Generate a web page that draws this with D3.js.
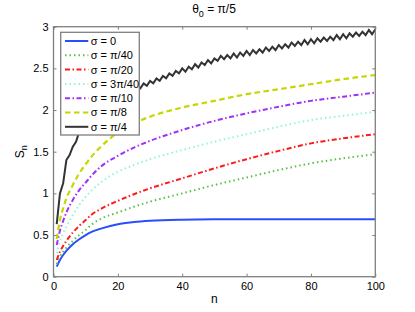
<!DOCTYPE html>
<html>
<head>
<meta charset="utf-8">
<script src="https://cdn.jsdelivr.net/npm/d3@7"></script>
<style>
  body { margin: 0; background: #fff; }
  svg { font-family: "Liberation Sans", Arial, sans-serif; }
  .axis text { font-size: 11px; fill: #000; }
</style>
</head>
<body>
<svg id="chart" width="415" height="312"></svg>
<script>
// sampled n for the smooth curves
var nSamples = [1, 2, 3, 4, 6, 8, 10, 12, 15, 20, 25, 30, 40, 50, 60, 70, 80, 90, 100];

var sig0    = [0.12, 0.20, 0.26, 0.31, 0.39, 0.45, 0.50, 0.54, 0.58, 0.63, 0.655, 0.67, 0.684, 0.689, 0.69, 0.69, 0.69, 0.69, 0.69];
var sigPi40 = [0.15, 0.24, 0.30, 0.35, 0.43, 0.50, 0.56, 0.63, 0.70, 0.77, 0.84, 0.90, 1.00, 1.10, 1.19, 1.28, 1.36, 1.42, 1.47];
var sigPi20 = [0.20, 0.30, 0.37, 0.43, 0.53, 0.61, 0.68, 0.75, 0.82, 0.91, 0.99, 1.06, 1.18, 1.30, 1.41, 1.51, 1.60, 1.66, 1.71];
var sig3Pi40 = [0.28, 0.42, 0.52, 0.60, 0.74, 0.86, 0.96, 1.04, 1.14, 1.26, 1.34, 1.41, 1.52, 1.62, 1.71, 1.80, 1.88, 1.93, 1.98];
var sigPi10 = [0.38, 0.55, 0.67, 0.77, 0.92, 1.04, 1.13, 1.22, 1.33, 1.45, 1.55, 1.63, 1.76, 1.87, 1.96, 2.04, 2.11, 2.16, 2.21];
var sigPi8  = [0.45, 0.68, 0.82, 0.94, 1.10, 1.24, 1.35, 1.45, 1.57, 1.73, 1.84, 1.92, 2.03, 2.11, 2.19, 2.25, 2.31, 2.37, 2.42];

// sigma = pi/4, every n from 1 to 100 (zig-zags)
var sigPi4 = [
  0.63, 1.00, 1.12, 1.40, 1.46, 1.56, 1.62, 1.74, 1.81, 1.92,
  1.91, 2.00, 1.98, 2.06, 2.04, 2.12, 2.09, 2.16, 2.13, 2.20,
  2.16, 2.23, 2.20, 2.26, 2.23, 2.29, 2.26, 2.32, 2.29, 2.35,
  2.32, 2.38, 2.35, 2.41, 2.38, 2.44, 2.41, 2.47, 2.44, 2.50,
  2.46, 2.52, 2.49, 2.55, 2.51, 2.57, 2.54, 2.60, 2.56, 2.62,
  2.59, 2.65, 2.61, 2.66, 2.62, 2.68, 2.63, 2.69, 2.65, 2.71,
  2.66, 2.72, 2.68, 2.73, 2.69, 2.75, 2.71, 2.76, 2.72, 2.78,
  2.74, 2.79, 2.75, 2.81, 2.77, 2.82, 2.78, 2.84, 2.79, 2.85,
  2.80, 2.86, 2.82, 2.87, 2.83, 2.88, 2.84, 2.90, 2.85, 2.91,
  2.86, 2.92, 2.88, 2.93, 2.89, 2.94, 2.90, 2.96, 2.91, 2.97
];

var legendLabels = ["\u03c3 = 0", "\u03c3 = \u03c0/40", "\u03c3 = \u03c0/20", "\u03c3 = 3\u03c0/40",
                    "\u03c3 = \u03c0/10", "\u03c3 = \u03c0/8", "\u03c3 = \u03c0/4"];
var xTicks = [0, 20, 40, 60, 80, 100];
var yTicks = [0, 0.5, 1, 1.5, 2, 2.5, 3];

var styles = [
  { color: "#2a4dff", width: 2,   dash: null },
  { color: "#5cbf48", width: 2,   dash: "1.5,3" },
  { color: "#ff1a1a", width: 2,   dash: "5,2.5,1.5,2.5" },
  { color: "#8ff5dc", width: 2,   dash: "1.5,3" },
  { color: "#a030f5", width: 2,   dash: "5,2.5,1.5,2.5" },
  { color: "#c4d800", width: 2.2, dash: "5.5,3.5" },
  { color: "#333333", width: 2,   dash: null }
];

var smoothSeries = [sig0, sigPi40, sigPi20, sig3Pi40, sigPi10, sigPi8];

var margin = { left: 53.5, right: 415 - 375.3, top: 26.7, bottom: 312 - 276.7 };
var svg = d3.select("#chart");
var width = 415 - margin.left - margin.right,
    height = 312 - margin.top - margin.bottom;

var g = svg.append("g").attr("transform", "translate(" + margin.left + "," + margin.top + ")");

var x = d3.scaleLinear().domain([0, 100]).range([0, width]);
var y = d3.scaleLinear().domain([0, 3]).range([height, 0]);

var axisColor = "#7f7f7f";

// lines
var smoothLine = d3.line()
  .x(function(d) { return x(d[0]); })
  .y(function(d) { return y(d[1]); })
  .curve(d3.curveMonotoneX);

var straightLine = d3.line()
  .x(function(d) { return x(d[0]); })
  .y(function(d) { return y(d[1]); });

var plot = g.append("g");

smoothSeries.forEach(function(vals, i) {
  var pts = nSamples.map(function(n, j) { return [n, vals[j]]; });
  plot.append("path")
    .attr("d", smoothLine(pts))
    .attr("fill", "none")
    .attr("stroke", styles[i].color)
    .attr("stroke-width", styles[i].width)
    .attr("stroke-dasharray", styles[i].dash);
});

var blackPts = sigPi4.map(function(v, i) { return [i + 1, v]; });
plot.append("path")
  .attr("d", straightLine(blackPts))
  .attr("fill", "none")
  .attr("stroke", styles[6].color)
  .attr("stroke-width", styles[6].width)
  .attr("stroke-linejoin", "miter");

// axes (box with inward ticks)
var xAxis = d3.axisBottom(x).tickValues(xTicks).tickSize(-3).tickPadding(6);
var yAxis = d3.axisLeft(y).tickValues(yTicks).tickSize(-3).tickPadding(5)
  .tickFormat(function(d) { return String(d); });

var gx = g.append("g").attr("class", "axis").attr("transform", "translate(0," + height + ")").call(xAxis);
var gy = g.append("g").attr("class", "axis").call(yAxis);
g.append("g").attr("class", "axis").call(d3.axisTop(x).tickValues(xTicks).tickSize(-3).tickFormat(""));
g.append("g").attr("class", "axis").attr("transform", "translate(" + width + ",0)")
  .call(d3.axisRight(y).tickValues(yTicks).tickSize(-3).tickFormat(""));

g.selectAll(".axis .domain").remove();
g.selectAll(".axis line").attr("stroke", axisColor);

g.append("rect")
  .attr("x", 0).attr("y", 0).attr("width", width).attr("height", height)
  .attr("fill", "none").attr("stroke", axisColor).attr("stroke-width", 1.3);

// labels
svg.append("text")
  .attr("x", margin.left + width / 2).attr("y", 303)
  .attr("text-anchor", "middle").attr("font-size", 12).text("n");

var ylab = svg.append("text")
  .attr("transform", "translate(24," + (margin.top + height / 2) + ") rotate(-90)")
  .attr("text-anchor", "middle").attr("font-size", 12);
ylab.append("tspan").text("S");
ylab.append("tspan").attr("font-size", 9).attr("dy", 3).text("n");

var title = svg.append("text")
  .attr("x", 214).attr("y", 13)
  .attr("text-anchor", "middle").attr("font-size", 12);
title.append("tspan").text("\u03b8");
title.append("tspan").attr("font-size", 9).attr("dy", 4).text("0");
title.append("tspan").attr("dy", -4).text(" = \u03c0/5");

// legend
var lg = g.append("g").attr("transform", "translate(" + (60.7 - margin.left) + "," + (32.3 - margin.top) + ")");
lg.append("rect")
  .attr("width", 78.6).attr("height", 102.7)
  .attr("fill", "#fff").attr("stroke", axisColor).attr("stroke-width", 1.3);

legendLabels.forEach(function(lab, i) {
  var yy = 8.7 + i * 14.3;
  lg.append("line")
    .attr("x1", 4.3).attr("x2", 27.6).attr("y1", yy).attr("y2", yy)
    .attr("stroke", styles[i].color)
    .attr("stroke-width", styles[i].width)
    .attr("stroke-dasharray", styles[i].dash);
  lg.append("text")
    .attr("x", 30).attr("y", yy + 4)
    .attr("font-size", 11).text(lab);
});
</script>
</body>
</html>
